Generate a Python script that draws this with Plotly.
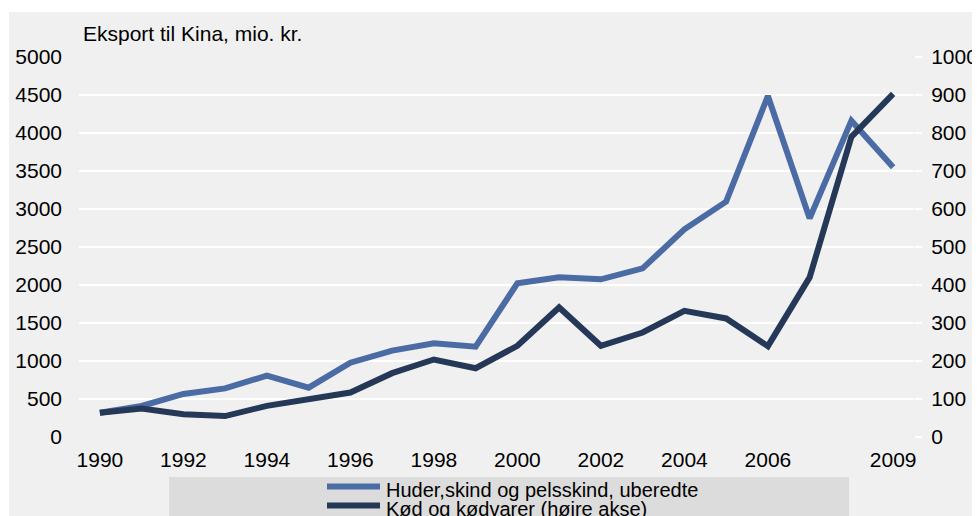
import plotly.graph_objects as go

years = list(range(1990, 2010))
huder = [320, 408, 566, 640, 807, 649, 978, 1136, 1233, 1189,
         2022, 2101, 2075, 2219, 2733, 3097, 4487, 2877, 4162, 3548]
kod = [64, 75, 60, 55, 82, 100, 117, 168, 204, 181,
       240, 341, 240, 275, 332, 312, 239, 420, 790, 903]
x_tickvals = [1990, 1992, 1994, 1996, 1998, 2000, 2002, 2004, 2006, 2009]
left_ticks = list(range(0, 5001, 500))
right_ticks = list(range(0, 1001, 100))
name_huder = "Huder,skind og pelsskind, uberedte"
name_kod = "Kød og kødvarer (højre akse)"
title = "Eksport til Kina, mio. kr."

BLUE = "#4b6ba5"
DARK = "#253858"
FONT = "Liberation Sans, Arial, sans-serif"

OFF = 8  # page body margin
W, H = 980 - OFF, 516 - OFF
L, R, T, B = 79 - OFF, 914 - OFF, 57 - OFF, 437 - OFF
pw, ph = R - L, B - T


def px(x):
    return (x - OFF - L) / pw


def py(y):
    return (B - (y - OFF)) / ph


fig = go.Figure()
fig.add_trace(go.Scatter(x=years, y=huder, mode="lines", name=name_huder,
                         line=dict(color=BLUE, width=6), showlegend=False))
fig.add_trace(go.Scatter(x=years, y=kod, mode="lines", name=name_kod, yaxis="y2",
                         line=dict(color=DARK, width=6), showlegend=False))

shapes = [
    dict(type="rect", xref="paper", yref="paper", x0=px(9), x1=px(990), y0=py(530), y1=py(12),
         fillcolor="#f0f0f0", line=dict(width=0), layer="below"),
    dict(type="rect", xref="paper", yref="paper", x0=px(169), x1=px(849), y0=py(530), y1=py(477),
         fillcolor="#dcdcdc", line=dict(width=0), layer="below"),
    dict(type="line", xref="paper", yref="paper", x0=px(327), x1=px(380), y0=py(486.5), y1=py(486.5),
         line=dict(color=BLUE, width=6)),
    dict(type="line", xref="paper", yref="paper", x0=px(327), x1=px(380), y0=py(505.5), y1=py(505.5),
         line=dict(color=DARK, width=6)),
]
annotations = [
    dict(text=title, xref="paper", yref="paper", x=px(81), y=py(34), xanchor="left", yanchor="middle",
         showarrow=False, font=dict(size=21, color="black", family=FONT)),
    dict(text=name_huder, xref="paper", yref="paper", x=px(384), y=py(490), xanchor="left", yanchor="middle",
         showarrow=False, font=dict(size=20, color="black", family=FONT)),
    dict(text=name_kod, xref="paper", yref="paper", x=px(384), y=py(509), xanchor="left", yanchor="middle",
         showarrow=False, font=dict(size=20, color="black", family=FONT)),
]

fig.update_layout(
    width=W, height=H,
    autosize=False,
    margin=dict(l=L, r=W - R, t=T, b=H - B, pad=0, autoexpand=False),
    paper_bgcolor="white",
    plot_bgcolor="#dcdcdc",
    font=dict(family=FONT, size=21, color="black"),
    showlegend=False,
    shapes=shapes,
    annotations=annotations,
    xaxis=dict(range=[1989.5, 2009.5], tickvals=x_tickvals, ticktext=[str(v) for v in x_tickvals],
               showgrid=False, zeroline=False, showline=False, ticks="", ticklabelstandoff=8,
               automargin=False),
    yaxis=dict(range=[0, 5000], tickvals=left_ticks, showgrid=True, gridcolor="white", gridwidth=2,
               zeroline=False, showline=False, ticks="", ticklabelstandoff=16, automargin=False),
    yaxis2=dict(range=[0, 1000], tickvals=right_ticks, overlaying="y", side="right", showgrid=False,
                zeroline=False, showline=False, ticks="outside", ticklen=7, tickcolor="white",
                tickwidth=2, ticklabelstandoff=5, automargin=False),
)

fig.write_html("out.html")
